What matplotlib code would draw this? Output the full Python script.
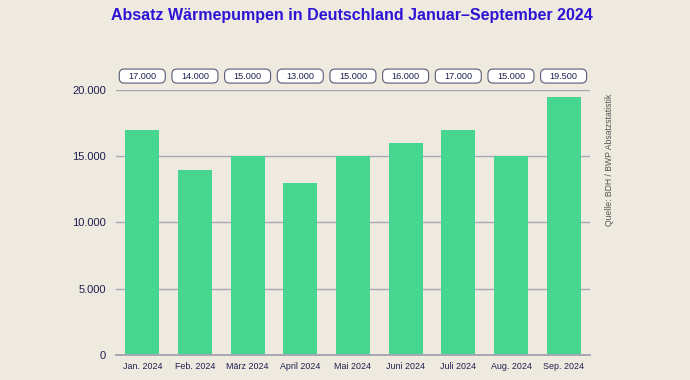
import matplotlib.pyplot as plt
from matplotlib.patches import FancyBboxPatch
from matplotlib.transforms import IdentityTransform

plt.rcParams['font.family'] = ['Liberation Sans', 'DejaVu Sans']

months = ["Jan. 2024", "Feb. 2024", "März 2024", "April 2024", "Mai 2024",
          "Juni 2024", "Juli 2024", "Aug. 2024", "Sep. 2024"]
sales = [17000, 14000, 15000, 13000, 15000, 16000, 17000, 15000, 19500]
y_ticks = [0, 5000, 10000, 15000, 20000]

bg = "#eeeae0"
navy = "#1e1e50"
grid_col = "#a8a7b4"


def de_fmt(v):
    return f"{v:,.0f}".replace(",", ".")


fig = plt.figure(figsize=(6.9, 3.8), dpi=100, facecolor=bg)
ax = fig.add_axes([0.168, 0.066, 0.687, 0.697], facecolor=bg)

x = range(len(months))
ax.bar(x, sales, width=0.645, color="#46d690", zorder=3)

ax.set_xlim(-0.5, len(months) - 0.5)
ax.set_ylim(0, 20000)
ax.set_yticks(y_ticks)
ax.set_yticklabels([de_fmt(v) for v in y_ticks], fontsize=8, color=navy)
ax.set_xticks(list(x))
ax.set_xticklabels(months, fontsize=6.4, color=navy)
ax.tick_params(axis="both", length=0)
ax.tick_params(axis="y", pad=7)
ax.tick_params(axis="x", pad=5)
ax.grid(axis="y", color=grid_col, linewidth=1.0, zorder=1)
for s in ["top", "right", "left"]:
    ax.spines[s].set_visible(False)
ax.spines["bottom"].set_color(grid_col)
ax.spines["bottom"].set_linewidth(1.4)
ax.spines["bottom"].set_zorder(4)

# value boxes above the plot (pixel coordinates)
fig.canvas.draw()
top_px = ax.transAxes.transform((0, 1))[1]
for i, v in enumerate(sales):
    cx = ax.transData.transform((i, 0))[0]
    cy = top_px + 14
    box = FancyBboxPatch((cx - 23, cy - 7), 46, 14,
                         boxstyle="round,pad=0,rounding_size=5",
                         fc="white", ec="#5a5a78", lw=0.8,
                         transform=IdentityTransform(), clip_on=False)
    fig.add_artist(box)
    fig.text(cx / 690, cy / 380, de_fmt(v), ha="center", va="center",
             fontsize=6.6, color=navy)

fig.text(0.51, 0.958, "Absatz Wärmepumpen in Deutschland Januar\u2013September 2024",
         ha="center", va="center", fontsize=11.5, fontweight="bold", color="#2d14d4")
fig.text(0.884, 0.579, "Quelle: BDH / BWP Absatzstatistik", rotation=90,
         ha="center", va="center", fontsize=6.2, color="#555555")

fig.savefig("out.png", dpi=100, facecolor=bg)
